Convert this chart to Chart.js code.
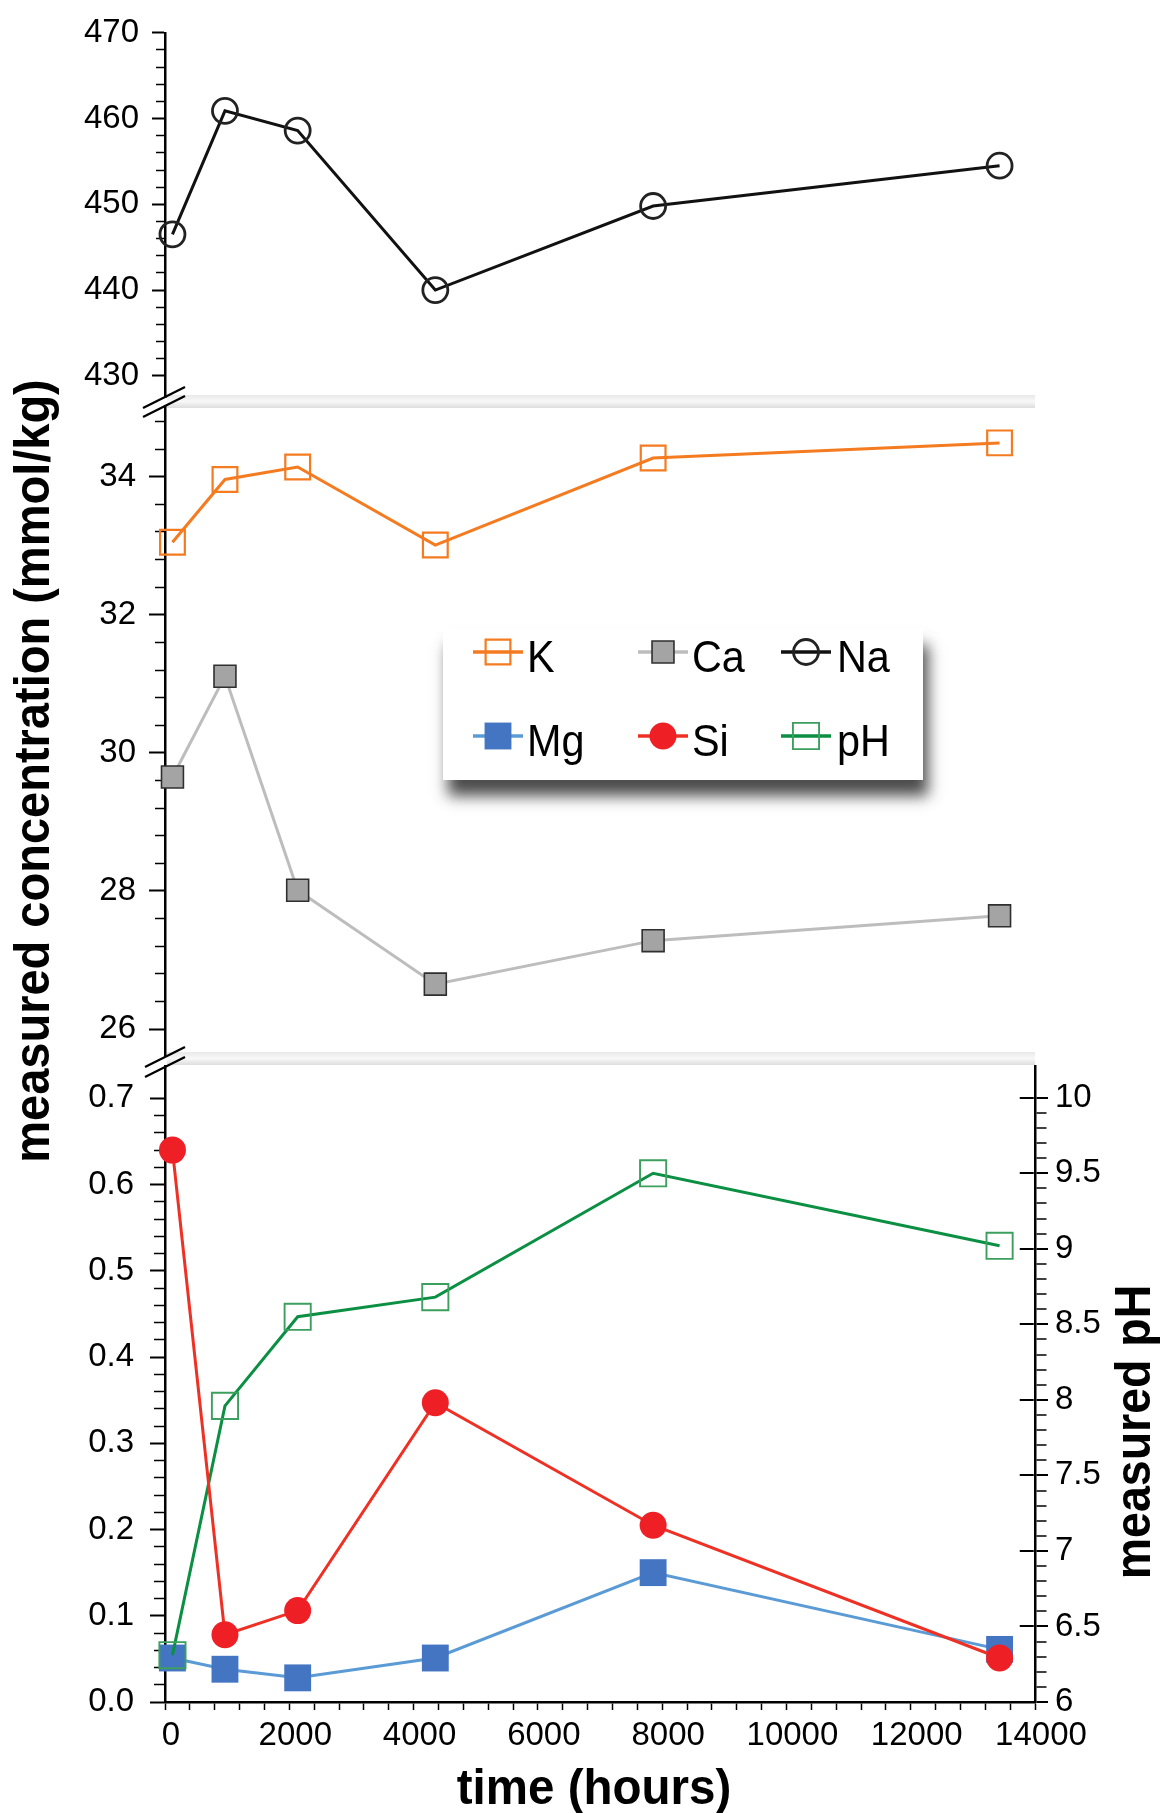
<!DOCTYPE html>
<html>
<head>
<meta charset="utf-8">
<script src="https://cdn.jsdelivr.net/npm/chart.js@4.4.1/dist/chart.umd.min.js"></script>
<style>
	html, body { margin: 0; padding: 0; background: #fff; }
	#wrap { position: relative; width: 1163px; height: 1813px; }
	#wrap canvas { position: absolute; left: 0; top: 0; }
</style>
</head>
<body>
<div id="wrap">
	<canvas id="lowChart" width="1163" height="1813"></canvas>
	<canvas id="midChart" width="1163" height="1813"></canvas>
	<canvas id="topChart" width="1163" height="1813"></canvas>
</div>
<script>
// sampling times (hours)
var hours = [120, 965, 2135, 4350, 7855, 13430];

// measured values
var na = [446.5, 460.9, 458.6, 440.0, 449.8, 454.5];
var k = [33.05, 33.96, 34.14, 33.01, 34.27, 34.49];
var ca = [29.65, 31.11, 28.01, 26.65, 27.28, 27.64];
var mg = [0.051, 0.038, 0.028, 0.051, 0.150, 0.061];
var si = [0.640, 0.078, 0.106, 0.347, 0.205, 0.051];
var ph = [6.31, 7.96, 8.55, 8.68, 9.50, 9.02];

// tick labels
var naTicks = [430, 440, 450, 460, 470];
var midTicks = [26, 28, 30, 32, 34];
var lowTicks = [0, 0.1, 0.2, 0.3, 0.4, 0.5, 0.6, 0.7];
var phTicks = [6, 6.5, 7, 7.5, 8, 8.5, 9, 9.5, 10];
var timeTicks = [0, 2000, 4000, 6000, 8000, 10000, 12000, 14000];

var legendOrder = ['K', 'Ca', 'Na', 'Mg', 'Si', 'pH'];

var FONT = "'Liberation Sans', Arial, Helvetica, sans-serif";
var TICK_SIZE = 33;
Chart.defaults.font.family = FONT;
Chart.defaults.color = '#000';

var look = {
	Na: { line: '#111111', shape: 'circle', radius: 12.5, fill: 'rgba(0,0,0,0)', edge: '#222222', edgeWidth: 2.8 },
	K: { line: '#f47b20', shape: 'rect', radius: 17.5, fill: 'rgba(0,0,0,0)', edge: '#f47b20', edgeWidth: 2.2 },
	Ca: { line: '#bdbdbd', shape: 'rect', radius: 15.5, fill: '#a4a4a4', edge: '#2f2f2f', edgeWidth: 1.6 },
	Mg: { line: '#5b9bd5', shape: 'rect', radius: 19, fill: '#4475c3', edge: '#4475c3', edgeWidth: 0 },
	Si: { line: '#ee3124', shape: 'circle', radius: 13.5, fill: '#ee2026', edge: '#ee2026', edgeWidth: 0 },
	pH: { line: '#0b8f43', shape: 'rect', radius: 18.5, fill: 'rgba(0,0,0,0)', edge: '#3c9f5e', edgeWidth: 1.9 }
};

function series(label, values, axis) {
	var st = look[label];
	return {
		label: label,
		yAxisID: axis || 'y',
		data: hours.map(function(h, i) { return { x: h, y: values[i] }; }),
		borderColor: st.line,
		borderWidth: 3,
		tension: 0,
		fill: false,
		pointStyle: st.shape,
		pointRadius: st.radius,
		pointBackgroundColor: st.fill,
		pointBorderColor: st.edge,
		pointBorderWidth: st.edgeWidth,
		clip: false
	};
}

var naSet = series('Na', na);
var kSet = series('K', k);
var caSet = series('Ca', ca);
var mgSet = series('Mg', mg);
var siSet = series('Si', si);
var phSet = series('pH', ph, 'y1');
var allSets = [naSet, kSet, caSet, mgSet, siSet, phSet];

// major ticks carry a label, minor ticks are just short marks
function tickList(majors, step, lo, hi) {
	var out = [];
	var n0 = Math.ceil(lo / step - 1e-6), n1 = Math.floor(hi / step + 1e-6);
	for (var n = n0; n <= n1; n++) {
		var v = +(n * step).toFixed(6);
		out.push({ value: v, major: majors.some(function(m) { return Math.abs(m - v) < 1e-6; }) });
	}
	return out;
}

function isMajor(c) {
	return c.tick && c.tick.major;
}

function leftAxis(o) {
	return {
		type: 'linear',
		position: 'left',
		min: o.min,
		max: o.max,
		bounds: 'data',
		afterFit: function(s) { s.width = 165; },
		afterBuildTicks: function(s) { s.ticks = tickList(o.majors, o.step, o.lo, o.hi); },
		border: { display: true, color: '#000', width: 2.5 },
		grid: {
			drawOnChartArea: false,
			tickLength: o.majorLen,
			tickColor: '#000',
			tickWidth: function(c) { return isMajor(c) ? 2 : 1.5; },
			// minor marks: skip the outer part of the tick
			tickBorderDash: function(c) {
				return isMajor(c) ? [] : [0, o.majorLen - o.minorLen, o.minorLen, 1000];
			}
		},
		ticks: {
			autoSkip: false,
			padding: o.pad,
			font: { size: TICK_SIZE },
			color: '#000',
			callback: function(v, i, t) { return t[i] && t[i].major ? o.fmt(v) : ''; }
		}
	};
}

function baseOptions(padding) {
	return {
		responsive: false,
		devicePixelRatio: 1,
		animation: false,
		events: [],
		layout: { padding: padding },
		plugins: { legend: { display: false }, tooltip: { enabled: false } }
	};
}

function drawCondensed(ctx, text, x, y, rot, font, squeeze) {
	ctx.save();
	ctx.translate(x, y);
	ctx.rotate(rot);
	ctx.scale(squeeze, 1);
	ctx.font = font;
	ctx.fillStyle = '#000';
	ctx.textAlign = 'center';
	ctx.textBaseline = 'alphabetic';
	ctx.fillText(text, 0, 0);
	ctx.restore();
}

// broken-axis bands, break marks and the boxed legend
var breakPlugin = {
	id: 'breaks',
	afterDraw: function(chart) {
		var ctx = chart.ctx;
		[[395, 408], [1052, 1065]].forEach(function(b) {
			var g = ctx.createLinearGradient(0, b[0], 0, b[1]);
			g.addColorStop(0, '#e9e9e9');
			g.addColorStop(0.5, '#f8f8f8');
			g.addColorStop(1, '#dddddd');
			ctx.fillStyle = g;
			ctx.fillRect(167, b[0], 868, b[1] - b[0]);
		});
		ctx.save();
		ctx.strokeStyle = '#000';
		ctx.lineWidth = 2.2;
		[[143, 408, 185, 387], [143, 417, 185, 396], [145, 1067, 185, 1047], [145, 1077, 185, 1057]].forEach(function(l) {
			ctx.beginPath();
			ctx.moveTo(l[0], l[1]);
			ctx.lineTo(l[2], l[3]);
			ctx.stroke();
		});
		ctx.restore();

		ctx.save();
		ctx.shadowColor = 'rgba(0,0,0,0.7)';
		ctx.shadowBlur = 14;
		ctx.shadowOffsetX = 5;
		ctx.shadowOffsetY = 16;
		ctx.fillStyle = '#fff';
		ctx.fillRect(443, 629, 480, 151);
		ctx.restore();

		var colX = [498, 663, 806], textX = [527, 692, 837];
		var rowY = [652, 736], baseY = [672, 756];
		legendOrder.forEach(function(name, i) {
			var ds = allSets.filter(function(d) { return d.label === name; })[0];
			var col = i % 3, row = Math.floor(i / 3);
			var cx = colX[col], cy = rowY[row];
			ctx.save();
			ctx.strokeStyle = ds.borderColor;
			ctx.lineWidth = 3.5;
			ctx.beginPath();
			ctx.moveTo(cx - 25, cy);
			ctx.lineTo(cx + 25, cy);
			ctx.stroke();
			ctx.fillStyle = ds.pointBackgroundColor;
			ctx.strokeStyle = ds.pointBorderColor;
			ctx.lineWidth = ds.pointBorderWidth;
			Chart.helpers.drawPoint(ctx, {
				pointStyle: ds.pointStyle,
				radius: ds.pointRadius,
				rotation: 0,
				borderWidth: ds.pointBorderWidth
			}, cx, cy);
			ctx.restore();
			ctx.save();
			ctx.translate(textX[col], baseY[row]);
			ctx.scale(0.94, 1);
			ctx.font = '44px ' + FONT;
			ctx.fillStyle = '#000';
			ctx.textAlign = 'left';
			ctx.textBaseline = 'alphabetic';
			ctx.fillText(name, 0, 0);
			ctx.restore();
		});
	}
};

var titlePlugin = {
	id: 'titles',
	afterDraw: function(chart) {
		var ctx = chart.ctx;
		var f = 'bold 50px ' + FONT;
		drawCondensed(ctx, 'measured concentration (mmol/kg)', 49, 771, -Math.PI / 2, f, 0.94);
		drawCondensed(ctx, 'measured pH', 1150, 1432, -Math.PI / 2, f, 0.93);
		drawCondensed(ctx, 'time (hours)', 594, 1804, 0, f, 0.95);
	}
};

// top panel: Na
var topOpts = baseOptions({ top: 30, bottom: 1813 - 397, left: 0, right: 128 });
topOpts.scales = {
	x: { type: 'linear', min: 0, max: 14000, display: false },
	y: leftAxis({ min: 427.53, max: 470, majors: naTicks, step: 2, lo: 430, hi: 470, majorLen: 13, minorLen: 9, pad: 13, fmt: String })
};
new Chart(document.getElementById('topChart'), {
	type: 'line',
	data: { datasets: [naSet] },
	options: topOpts
});

// middle panel: K and Ca
var midOpts = baseOptions({ top: 406.5, bottom: 1813 - 1056, left: 0, right: 128 });
midOpts.scales = {
	x: { type: 'linear', min: 0, max: 14000, display: false },
	y: leftAxis({ min: 25.609, max: 35.017, majors: midTicks, step: 0.4, lo: 25.609, hi: 35.017, majorLen: 16, minorLen: 10, pad: 13, fmt: String })
};
new Chart(document.getElementById('midChart'), {
	type: 'line',
	data: { datasets: [kSet, caSet] },
	options: midOpts,
	plugins: [breakPlugin]
});

// bottom panel: Mg, Si and pH
var lowOpts = baseOptions({ top: 1066, bottom: 0, left: 0, right: 0 });
lowOpts.scales = {
	x: {
		type: 'linear',
		min: 0,
		max: 14000,
		bounds: 'data',
		afterFit: function(s) { s.height = 111; },
		afterBuildTicks: function(s) { s.ticks = tickList(timeTicks, 400, 0, 14000); },
		border: { color: '#000', width: 2.5 },
		grid: { drawOnChartArea: false, tickLength: 8, tickColor: '#000', tickWidth: 1.5 },
		ticks: {
			autoSkip: false,
			maxRotation: 0,
			minRotation: 0,
			padding: 6,
			labelOffset: 6,
			font: { size: TICK_SIZE },
			callback: function(v, i, t) { return t[i] && t[i].major ? String(v) : ''; }
		}
	},
	y: leftAxis({ min: 0, max: 0.7375, majors: lowTicks, step: 0.02, lo: 0, hi: 0.7, majorLen: 15, minorLen: 11, pad: 16, fmt: function(v) { return v.toFixed(1); } }),
	y1: {
		type: 'linear',
		position: 'right',
		min: 6,
		max: 10.21,
		bounds: 'data',
		afterFit: function(s) { s.width = 128; },
		afterBuildTicks: function(s) { s.ticks = tickList(phTicks, 0.1, 6, 10); },
		border: {
			color: '#000',
			width: 2.5,
			// only the last bit of a major grid line shows: the inner half of the tick
			dash: function(c) {
				var a = c.chart.chartArea;
				var w = a ? a.right - a.left - 1.25 : 868;
				return [0, w - 14, 14, 3000];
			}
		},
		grid: {
			drawOnChartArea: true,
			color: function(c) { return isMajor(c) ? '#000' : 'rgba(0,0,0,0)'; },
			lineWidth: 2,
			tickLength: 13,
			tickColor: '#000',
			tickWidth: function(c) { return isMajor(c) ? 2 : 1.5; },
			tickBorderDash: function(c) { return isMajor(c) ? [] : [10, 1000]; }
		},
		ticks: {
			autoSkip: false,
			padding: 7,
			font: { size: TICK_SIZE },
			callback: function(v, i, t) { return t[i] && t[i].major ? String(v) : ''; }
		}
	}
};
new Chart(document.getElementById('lowChart'), {
	type: 'line',
	data: { datasets: [siSet, phSet, mgSet] },
	options: lowOpts,
	plugins: [titlePlugin]
});
</script>
</body>
</html>
